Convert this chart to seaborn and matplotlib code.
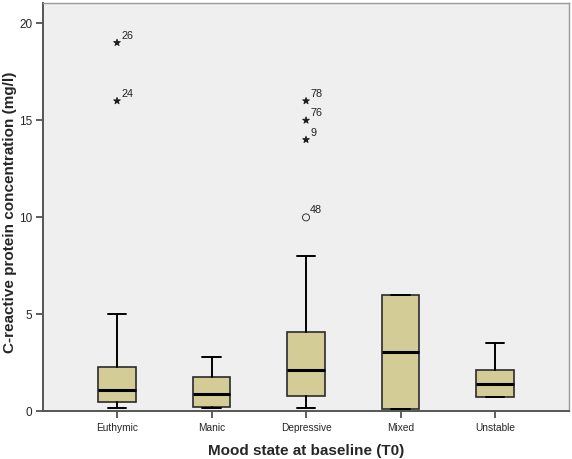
"""CRP by mood state at baseline, SPSS-style box plot"""
import numpy as np
import pandas as pd
import matplotlib
matplotlib.use("Agg")
import matplotlib.pyplot as plt
import seaborn as sns

# box statistics (Tukey hinges, SPSS style)
moods = ["Euthymic", "Manic", "Depressive", "Mixed", "Unstable"]
whisker_low = [0.17, 0.2, 0.17, 0.15, 0.74]
q1 = [0.5, 0.22, 0.81, 0.15, 0.74]
median = [1.11, 0.91, 2.12, 3.08, 1.4]
q3 = [2.3, 1.76, 4.08, 6.02, 2.12]
whisker_high = [5.0, 2.79, 8.0, 6.02, 3.51]

# outliers: group, value, case id, kind (star = extreme, circle = outlier)
out_group = ["Euthymic", "Euthymic", "Depressive", "Depressive", "Depressive", "Depressive"]
out_value = [19.0, 16.0, 16.0, 15.0, 14.0, 10.0]
out_case = ["26", "24", "78", "76", "9", "48"]
out_kind = ["star", "star", "star", "star", "star", "circle"]

sns.set_theme(style="ticks")
plt.rcParams["font.family"] = ["Liberation Sans", "DejaVu Sans"]

fig = plt.figure(figsize=(5.72, 4.59), dpi=100)
ax = fig.add_axes([0.0757, 0.1035, 0.9186, 0.8893])
ax.set_facecolor("#efefef")

stats = []
for i, m in enumerate(moods):
    stats.append(dict(label=m, whislo=whisker_low[i], q1=q1[i], med=median[i],
                      q3=q3[i], whishi=whisker_high[i], fliers=[]))

ax.bxp(stats, positions=range(len(moods)), widths=0.4, capwidths=0.2,
       showfliers=False, patch_artist=True,
       boxprops=dict(facecolor="#d3cc97", edgecolor="#2b2b2b", linewidth=1.2),
       medianprops=dict(color="black", linewidth=2.2),
       whiskerprops=dict(color="black", linewidth=1.4),
       capprops=dict(color="black", linewidth=1.4))

outliers = pd.DataFrame({"mood": out_group, "crp": out_value,
                         "case": out_case, "kind": out_kind})
outliers["x"] = outliers["mood"].map({m: i for i, m in enumerate(moods)})

sns.scatterplot(data=outliers, x="x", y="crp", style="kind",
                markers={"star": "*", "circle": "o"}, ax=ax, legend=False,
                s=26, color="black", edgecolor="black", linewidth=0.6,
                zorder=3)
# open circle for the mild outlier
pts = ax.collections[-1]
kinds = outliers["kind"].values
pts.set_facecolors([(0, 0, 0, 0) if k == "circle" else (0.1, 0.1, 0.1, 1) for k in kinds])
pts.set_edgecolors([(0.1, 0.1, 0.1, 1)] * len(kinds))

for _, r in outliers.iterrows():
    ax.annotate(r["case"], (r["x"], r["crp"]), xytext=(3, 3),
                textcoords="offset points", fontsize=7.8, color="#222222")

ax.set_xlim(-0.78, 4.78)
ax.set_ylim(0, 21.03)
ax.set_yticks([0, 5, 10, 15, 20])
ax.set_xticks(range(len(moods)))
ax.set_xticklabels(moods)
ax.tick_params(axis="both", length=5, width=1.2, color="#444444",
               direction="out", pad=3)
ax.tick_params(axis="x", labelsize=7.3)
ax.tick_params(axis="y", labelsize=8.5)

for side in ["left", "bottom"]:
    ax.spines[side].set_color("#555555")
    ax.spines[side].set_linewidth(1.4)
for side in ["top", "right"]:
    ax.spines[side].set_visible(True)
    ax.spines[side].set_color("#999999")
    ax.spines[side].set_linewidth(1.0)

ax.set_ylabel("C-reactive protein concentration (mg/l)", fontsize=11,
              fontweight="bold")
ax.yaxis.set_label_coords(-0.051, 0.4875)
ax.set_xlabel("Mood state at baseline (T0)", fontsize=11, fontweight="bold",
              labelpad=8)

fig.savefig("out.png", dpi=100)
